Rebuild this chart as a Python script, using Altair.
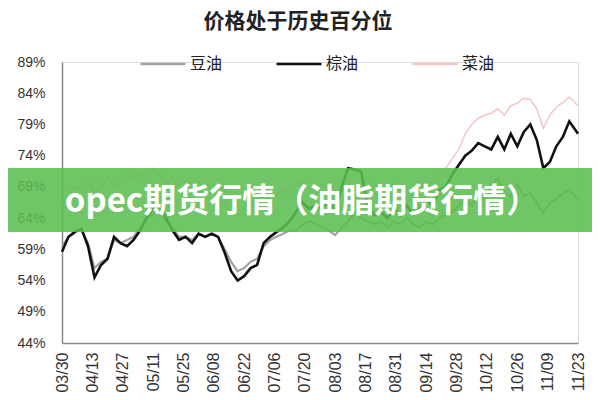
import altair as alt
import pandas as pd

# ---- data ----
start = pd.Timestamp("2020-03-30")
dates = list(pd.date_range(start, periods=79, freq="3D")) + [pd.Timestamp("2020-11-23")]

palm = [58.6, 61, 61.8, 62.3, 59.5, 54.5, 56.5, 57.5, 61, 60,
        59.5, 60.5, 62, 64, 65.5, 66, 64, 62, 60.5, 61,
        60, 61.5, 61, 61.5, 61, 58.5, 55.5, 54, 54.7, 56,
        56.5, 60, 61, 61.8, 62.5, 63.5, 65, 66.5, 65.5, 66,
        65.5, 66.8, 65, 69, 72, 71.8, 71.4, 66, 64.5, 65,
        64, 65.5, 64.5, 66, 64.5, 65.5, 67, 66, 68.5, 69,
        71, 72.5, 74, 74.8, 76, 75.5, 75, 77, 75, 77.5,
        75.5, 77.8, 79, 76.5, 72, 73, 75.5, 77, 79.5, 77.5]
soy = [59.5, 61, 62, 62, 60, 56, 57, 57.5, 60.5, 60,
       60.5, 61, 62.5, 64, 64.5, 65, 63.5, 62.5, 61, 61,
       60.5, 61.5, 61, 61.5, 61, 59, 57, 55.5, 56, 57,
       57.5, 59.5, 60.5, 61, 61.5, 62, 62, 63, 63.5, 63,
       62.5, 62, 61.3, 62.5, 63.5, 65, 64, 63.5, 63, 63.5,
       62.5, 63.5, 63, 64, 63, 62.5, 63.5, 63, 64, 64.5,
       65, 66, 67, 66, 68, 67, 69, 70.5, 68, 67.5,
       69.5, 67.5, 68, 66.5, 64.8, 66.5, 67, 68, 68.5, 67]
rapeseed = [66, 67.5, 69, 68.5, 70, 68, 69, 70.5, 69, 70,
            71, 70, 71.5, 70.5, 72, 71, 69.5, 70.5, 69, 68.5,
            69.5, 68, 69, 68.5, 67, 66, 65, 64.5, 65.5, 66.5,
            66, 67.5, 68, 67.5, 68.5, 68, 69.5, 70, 69, 68.5,
            69.5, 68, 67.5, 68.5, 69, 68.5, 69.5, 70, 68.5, 69,
            68, 69.5, 68.5, 69, 68, 69, 68.5, 70, 71.5, 72,
            73.5, 75, 77.5, 79, 80, 80.5, 80.8, 81.5, 80.5, 82,
            82.4, 83.2, 83, 81.5, 78.4, 80.5, 81.8, 82.5, 83.4, 82]

series_names = ["豆油", "棕油", "菜油"]
series_colors = ["#a3a3a3", "#111111", "#f2c6c6"]
tick_labels = ["03/30", "04/13", "04/27", "05/11", "05/25", "06/08", "06/22", "07/06",
               "07/20", "08/03", "08/17", "08/31", "09/14", "09/28", "10/12", "10/26",
               "11/09", "11/23"]
y_ticks = [44, 49, 54, 59, 64, 69, 74, 79, 84, 89]
title_text = "价格处于历史百分位"
banner_text = "opec期货行情（油脂期货行情）"

rows = []
for name, vals in zip(series_names, [soy, palm, rapeseed]):
    for d, v in zip(dates, vals):
        rows.append({"date": d.strftime("%Y-%m-%d"), "series": name, "value": v})
df = pd.DataFrame(rows)

tick_ms = [int(pd.Timestamp("2020-" + t.replace("/", "-"), tz="UTC").value // 10**6) for t in tick_labels]
dom = [tick_ms[0], tick_ms[-1]]

color = alt.Color(
    "series:N",
    scale=alt.Scale(domain=series_names, range=series_colors),
    legend=alt.Legend(
        title=None, orient="none", direction="horizontal",
        legendX=77, legendY=-22,
        symbolType="stroke", symbolSize=2025, symbolStrokeWidth=2.5,
        labelFontSize=16, labelFont="Noto Sans CJK SC", labelColor="#222",
        labelOffset=3, columnPadding=48,
    ),
)

x = alt.X(
    "date:T",
    scale=alt.Scale(type="utc", domain=dom),
    axis=alt.Axis(
        values=tick_ms, format="%m/%d", labelAngle=270, labelFontSize=16,
        labelFont="Liberation Sans", labelColor="#333", ticks=False,
        domainColor="#8a8a8a", domainWidth=1.5, grid=False, title=None,
        labelPadding=9, labelOverlap=False, labelBound=False, labelFlush=False,
    ),
)
y = alt.Y(
    "value:Q",
    scale=alt.Scale(domain=[44, 89], nice=False, zero=False),
    axis=alt.Axis(
        values=y_ticks, labelExpr="datum.value + '%'", labelFontSize=14,
        labelFont="Liberation Sans", labelColor="#333", ticks=False,
        domainColor="#8a8a8a", domainWidth=1.5, grid=False, title=None,
        labelPadding=17,
    ),
)

base = alt.Chart(df)
layers = []
for name, w in [("菜油", 1.5), ("豆油", 2.2), ("棕油", 2.6)]:
    layers.append(
        base.transform_filter(alt.datum.series == name)
        .mark_line(strokeWidth=w, interpolate="linear")
        .encode(x=x, y=y, color=color)
    )

banner = alt.Chart(pd.DataFrame({"t": [banner_text]})).mark_rect(
    color="#5cbd52", opacity=0.88
).encode(x=alt.value(-54), x2=alt.value(530), y=alt.value(106), y2=alt.value(170))

banner_txt = alt.Chart(pd.DataFrame({"t": [banner_text]})).mark_text(
    font="Noto Sans CJK SC", fontWeight="bold", fontSize=33, color="white",
    align="center", baseline="middle"
).encode(text="t:N", x=alt.value(240), y=alt.value(140))

chart = alt.layer(*layers, banner, banner_txt).properties(
    width=516, height=281,
    title=alt.TitleParams(
        text=title_text, anchor="middle", frame="group", dx=-22, dy=3,
        font="Noto Sans CJK SC", fontWeight="bold", fontSize=21, color="#222",
        baseline="middle", orient="top", offset=0,
    ),
    autosize=alt.AutoSizeParams(type="none"),
    padding={"left": 54, "top": 54, "right": 14, "bottom": 49},
).configure_view(stroke=None).configure(background="white")

chart.save("out.html", embed_options={"renderer": "svg", "actions": False})
